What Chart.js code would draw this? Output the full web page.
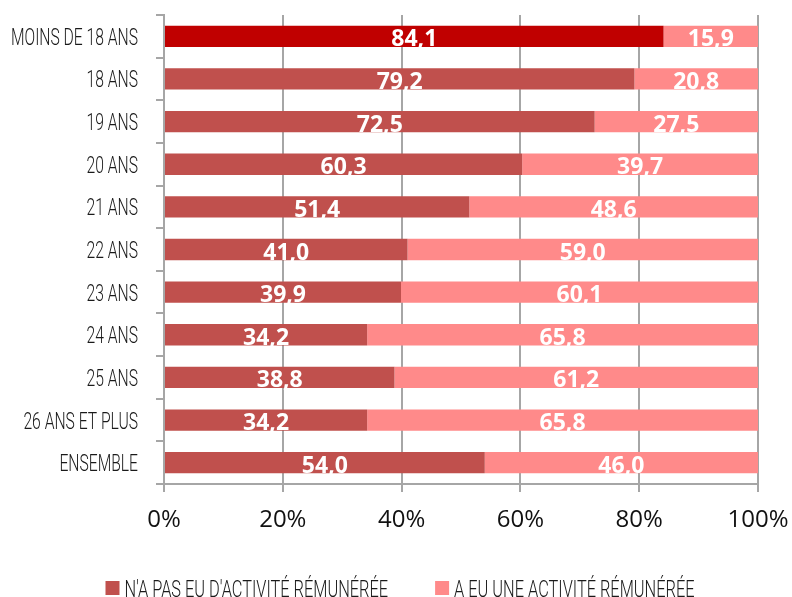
<!DOCTYPE html>
<html>
<head>
<meta charset="utf-8">
<script src="https://cdn.jsdelivr.net/npm/chart.js@4/dist/chart.umd.min.js"></script>
<style>
html,body{margin:0;padding:0;background:#fff;}
#wrap{width:792px;height:597px;position:relative;}
</style>
</head>
<body>
<div id="wrap"><canvas id="c"></canvas></div>
<script>
const categories = ["MOINS DE 18 ANS","18 ANS","19 ANS","20 ANS","21 ANS","22 ANS","23 ANS","24 ANS","25 ANS","26 ANS ET PLUS","ENSEMBLE"];
const seriesNames = ["N'A PAS EU D'ACTIVITÉ RÉMUNÉRÉE","A EU UNE ACTIVITÉ RÉMUNÉRÉE"];
const noActivity = [84.1,79.2,72.5,60.3,51.4,41.0,39.9,34.2,38.8,34.2,54.0];
const hadActivity = [15.9,20.8,27.5,39.7,48.6,59.0,60.1,65.8,61.2,65.8,46.0];
const xTicks = [0,20,40,60,80,100];

const c1 = categories.map((_, i) => i === 0 ? '#C00000' : '#C0504D');
const c2 = '#FF8A8A';

// condensed text helper (horizontally compressed light font)
const CFONT = "300 24px Roboto, sans-serif";
let CSCALE = 0.62;
function condText(ctx, txt, x, y, align, sc) {
  ctx.save();
  ctx.font = CFONT;
  ctx.textAlign = align;
  ctx.textBaseline = 'alphabetic';
  ctx.translate(x, y);
  ctx.scale(sc, 1);
  ctx.fillText(txt, 0, 0);
  ctx.restore();
}
function rawWidth(ctx, txt) {
  ctx.save();
  ctx.font = CFONT;
  const w = ctx.measureText(txt).width;
  ctx.restore();
  return w;
}

const labelPlugin = {
  id: 'barLabels',
  afterDatasetsDraw(chart) {
    const ctx = chart.ctx;
    ctx.save();
    ctx.fillStyle = '#ffffff';
    ctx.font = "bold 23px 'Open Sans', sans-serif";
    ctx.textAlign = 'center';
    ctx.textBaseline = 'alphabetic';
    chart.data.datasets.forEach((ds, di) => {
      const meta = chart.getDatasetMeta(di);
      meta.data.forEach((el, i) => {
        const p = el.getProps(['x','base','y'], true);
        const txt = ds.data[i].toFixed(1).replace('.', ',');
        ctx.fillText(txt, (p.x + p.base) / 2, p.y + 10);
      });
    });
    ctx.restore();
  },
  afterDraw(chart) {
    const ctx = chart.ctx;
    const ys = chart.scales.y;
    const area = chart.chartArea;
    // horizontal compression so the longest category label fits the reference width
    const sc = 127 / rawWidth(ctx, categories[0]);
    ctx.save();
    ctx.fillStyle = '#1a1a1a';
    categories.forEach((lab, i) => {
      const y = ys.getPixelForValue(i);
      condText(ctx, lab, area.left - 26, y + 8.5, 'right', sc);
    });
    // legend
    const items = [
      { text: seriesNames[0], color: '#C0504D' },
      { text: seriesNames[1], color: c2 }
    ];
    const box = 14, gapBoxText = 5, gapItems = 47;
    const lsc = 504 / (rawWidth(ctx, items[0].text) + rawWidth(ctx, items[1].text));
    const widths = items.map(it => rawWidth(ctx, it.text) * lsc);
    const total = widths.reduce((a, w) => a + box + gapBoxText + w, 0) + gapItems * (items.length - 1);
    let x = 400 - total / 2;
    const cy = 588;
    items.forEach((it, k) => {
      ctx.fillStyle = it.color;
      ctx.fillRect(x, cy - 7, box, box);
      x += box + gapBoxText;
      ctx.fillStyle = '#1a1a1a';
      condText(ctx, it.text, x, cy + 8.5, 'left', lsc);
      x += widths[k] + gapItems;
    });
    ctx.restore();
  }
};

new Chart(document.getElementById('c'), {
  type: 'bar',
  data: {
    labels: categories,
    datasets: [
      { label: seriesNames[0], data: noActivity, backgroundColor: c1, borderWidth: 0, barPercentage: 0.5, categoryPercentage: 1 },
      { label: seriesNames[1], data: hadActivity, backgroundColor: c2, borderWidth: 0, barPercentage: 0.5, categoryPercentage: 1 }
    ]
  },
  options: {
    indexAxis: 'y',
    responsive: true,
    maintainAspectRatio: false,
    animation: false,
    layout: { padding: { top: 15, right: 0, left: 0, bottom: 45 } },
    scales: {
      x: {
        stacked: true,
        min: 0, max: 100,
        afterBuildTicks(scale) { scale.ticks = xTicks.map(v => ({ value: v })); },
        afterFit(scale) { scale.height = 68; scale.paddingRight = 34; },
        grid: { color: '#A6A6A6', lineWidth: 2, tickLength: 8, drawOnChartArea: true },
        border: { color: '#A6A6A6', width: 2 },
        ticks: {
          color: '#111',
          padding: 14,
          font: { family: "'Open Sans', sans-serif", size: 24, weight: '500' },
          callback: (v) => v + '%'
        }
      },
      y: {
        stacked: true,
        afterFit(scale) { scale.width = 164; },
        grid: { color: '#A6A6A6', lineWidth: 2, tickLength: 8, drawOnChartArea: false, offset: true },
        border: { color: '#A6A6A6', width: 2 },
        ticks: { display: false }
      }
    },
    plugins: {
      legend: { display: false },
      tooltip: { enabled: false }
    }
  },
  plugins: [labelPlugin]
});
</script>
</body>
</html>
